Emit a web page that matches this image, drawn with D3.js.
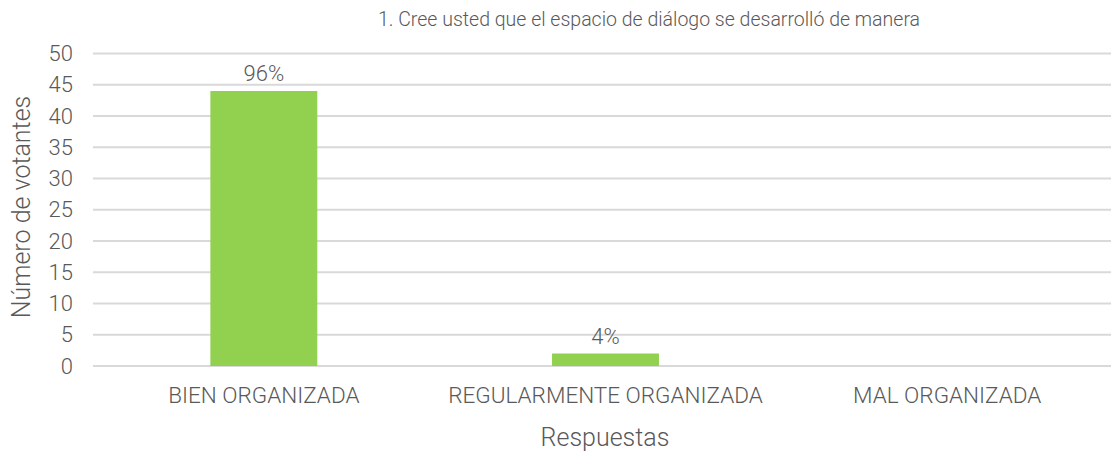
<!DOCTYPE html>
<html>
<head>
<meta charset="utf-8">
<script src="https://cdn.jsdelivr.net/npm/d3@7"></script>
<style>
  body { margin: 0; background: #fff; }
  text { font-family: Roboto, "Liberation Sans", sans-serif; font-weight: 300; fill: #595959; }
</style>
</head>
<body>
<div id="chart"></div>
<script>
var categories = ["BIEN ORGANIZADA", "REGULARMENTE ORGANIZADA", "MAL ORGANIZADA"]
var votos = [44, 2, 0]
var etiquetas = ["96%", "4%", ""]
var yTicks = [0, 5, 10, 15, 20, 25, 30, 35, 40, 45, 50]

var width = 1111, height = 453
var plotLeft = 93, plotRight = 1118, plotTop = 53.5, plotBottom = 366

var svg = d3.select("#chart")
  .append("svg")
  .attr("width", width)
  .attr("height", height)

var x = d3.scaleBand()
  .domain(categories)
  .range([plotLeft, plotRight])
  .paddingInner(0.687)
  .paddingOuter(0.3435)

var y = d3.scaleLinear()
  .domain([0, 50])
  .range([plotBottom, plotTop])

// gridlines
svg.append("g")
  .selectAll("line")
  .data(yTicks)
  .join("line")
  .attr("x1", plotLeft)
  .attr("x2", width)
  .attr("y1", d => y(d))
  .attr("y2", d => y(d))
  .attr("stroke", "#d9d9d9")
  .attr("stroke-width", 2)

// y axis labels
var yAxis = svg.append("g")
  .attr("transform", "translate(" + (plotLeft - 10) + ",0)")
  .call(d3.axisLeft(y).tickValues(yTicks).tickSize(0).tickPadding(10))
yAxis.select(".domain").remove()
yAxis.selectAll("text")
  .style("font-size", "22px")
  .style("font-family", "Roboto, sans-serif")
  .style("font-weight", 300)
  .attr("fill", "#595959")

// bars
svg.append("g")
  .selectAll("rect")
  .data(votos)
  .join("rect")
  .attr("x", (d, i) => x(categories[i]))
  .attr("width", x.bandwidth())
  .attr("y", d => y(d))
  .attr("height", d => y(0) - y(d))
  .attr("fill", "#92d050")

// data labels
svg.append("g")
  .selectAll("text")
  .data(votos)
  .join("text")
  .attr("x", (d, i) => x(categories[i]) + x.bandwidth() / 2)
  .attr("y", d => y(d) - 10)
  .attr("text-anchor", "middle")
  .style("font-size", "22px")
  .text((d, i) => etiquetas[i])

// x axis labels
var xAxis = svg.append("g")
  .attr("transform", "translate(0," + plotBottom + ")")
  .call(d3.axisBottom(x).tickSize(0).tickPadding(21))
xAxis.select(".domain").remove()
xAxis.selectAll("text")
  .style("font-size", "22.5px")
  .style("font-family", "Roboto, sans-serif")
  .style("font-weight", 300)
  .attr("fill", "#595959")

// title
svg.append("text")
  .attr("x", 649)
  .attr("y", 26)
  .attr("text-anchor", "middle")
  .style("font-size", "19.5px")
  .text("1. Cree usted que el espacio de diálogo se desarrolló de manera")

// axis titles
svg.append("text")
  .attr("x", 605)
  .attr("y", 446)
  .attr("text-anchor", "middle")
  .style("font-size", "25px")
  .text("Respuestas")

svg.append("text")
  .attr("transform", "translate(30,207) rotate(-90)")
  .attr("text-anchor", "middle")
  .style("font-size", "25px")
  .text("Número de votantes")
</script>
</body>
</html>
